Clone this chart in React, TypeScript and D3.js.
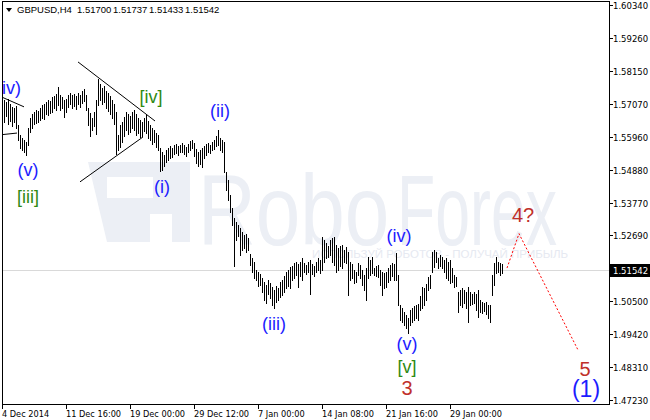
import React from "react";
import * as d3 from "d3";

const symbolTitle = "GBPUSD,H4";
const titleQuotes = ["1.51700", "1.51737", "1.51433", "1.51542"];

const highs = [
  1.5726, 1.5719, 1.5712, 1.5722, 1.5706, 1.5696, 1.5692, 1.5699, 1.5636, 1.5603,
  1.5593, 1.5586, 1.5580, 1.5626, 1.5659, 1.5673, 1.5679, 1.5686, 1.5683, 1.5692,
  1.5702, 1.5706, 1.5712, 1.5719, 1.5716, 1.5729, 1.5732, 1.5739, 1.5762, 1.5736,
  1.5729, 1.5719, 1.5722, 1.5736, 1.5742, 1.5736, 1.5739, 1.5732, 1.5742, 1.5736,
  1.5749, 1.5756, 1.5736, 1.5692, 1.5676, 1.5659, 1.5679, 1.5719, 1.5789, 1.5772,
  1.5759, 1.5766, 1.5749, 1.5742, 1.5732, 1.5719, 1.5706, 1.5679, 1.5603, 1.5636,
  1.5646, 1.5663, 1.5679, 1.5673, 1.5666, 1.5679, 1.5686, 1.5673, 1.5659, 1.5653,
  1.5646, 1.5659, 1.5669, 1.5649, 1.5636, 1.5626, 1.5619, 1.5609, 1.5603, 1.5560,
  1.5546, 1.5536, 1.5553, 1.5560, 1.5566, 1.5560, 1.5570, 1.5573, 1.5566, 1.5570,
  1.5576, 1.5570, 1.5563, 1.5573, 1.5583, 1.5586, 1.5576, 1.5556, 1.5546, 1.5553,
  1.5560, 1.5566, 1.5573, 1.5576, 1.5570, 1.5580, 1.5586, 1.5600, 1.5619, 1.5593,
  1.5586, 1.5580, 1.5480, 1.5453, 1.5404, 1.5360, 1.5327, 1.5314, 1.5304, 1.5294,
  1.5281, 1.5271, 1.5274, 1.5261, 1.5208, 1.5194, 1.5181, 1.5155, 1.5148, 1.5141,
  1.5128, 1.5115, 1.5105, 1.5121, 1.5111, 1.5098, 1.5088, 1.5102, 1.5095, 1.5115,
  1.5121, 1.5135, 1.5148, 1.5155, 1.5165, 1.5168, 1.5178, 1.5181, 1.5175, 1.5181,
  1.5194, 1.5178, 1.5171, 1.5181, 1.5188, 1.5175, 1.5168, 1.5181, 1.5194, 1.5188,
  1.5264, 1.5254, 1.5244, 1.5234, 1.5254, 1.5261, 1.5264, 1.5238, 1.5228, 1.5234,
  1.5238, 1.5221, 1.5231, 1.5214, 1.5181, 1.5175, 1.5155, 1.5148, 1.5178, 1.5171,
  1.5155, 1.5138, 1.5161, 1.5198, 1.5188, 1.5198, 1.5161, 1.5168, 1.5171, 1.5155,
  1.5148, 1.5145, 1.5148, 1.5161, 1.5171, 1.5178, 1.5175, 1.5211, 1.5138, 1.5038,
  1.5028, 1.5015, 1.5005, 1.4995, 1.5022, 1.5028, 1.5035, 1.5038, 1.5042, 1.5068,
  1.5098, 1.5095, 1.5108, 1.5131, 1.5138, 1.5214, 1.5221, 1.5214, 1.5194, 1.5204,
  1.5198, 1.5188, 1.5194, 1.5181, 1.5188, 1.5161, 1.5138, 1.5131, 1.5082, 1.5088,
  1.5095, 1.5088, 1.5082, 1.5098, 1.5082, 1.5075, 1.5082, 1.5075, 1.5088, 1.5055,
  1.5048, 1.5045, 1.5048, 1.5038, 1.5038, 1.5138, 1.5178, 1.5198, 1.5181, 1.5178,
  1.51737,
];

const lows = [
  1.5659, 1.5646, 1.5666, 1.5639, 1.5649, 1.5633, 1.5646, 1.5626, 1.5586, 1.5560,
  1.5553, 1.5546, 1.5536, 1.5570, 1.5613, 1.5626, 1.5639, 1.5643, 1.5646, 1.5653,
  1.5659, 1.5656, 1.5673, 1.5669, 1.5676, 1.5679, 1.5692, 1.5686, 1.5702, 1.5686,
  1.5692, 1.5663, 1.5679, 1.5696, 1.5706, 1.5692, 1.5699, 1.5689, 1.5706, 1.5696,
  1.5709, 1.5716, 1.5686, 1.5636, 1.5600, 1.5619, 1.5633, 1.5606, 1.5702, 1.5719,
  1.5706, 1.5712, 1.5692, 1.5683, 1.5673, 1.5659, 1.5639, 1.5540, 1.5553, 1.5563,
  1.5580, 1.5600, 1.5619, 1.5606, 1.5613, 1.5626, 1.5619, 1.5603, 1.5609, 1.5596,
  1.5600, 1.5616, 1.5609, 1.5593, 1.5586, 1.5573, 1.5580, 1.5563, 1.5553, 1.5483,
  1.5487, 1.5500, 1.5513, 1.5520, 1.5526, 1.5530, 1.5540, 1.5543, 1.5536, 1.5546,
  1.5546, 1.5540, 1.5533, 1.5546, 1.5553, 1.5560, 1.5533, 1.5510, 1.5500, 1.5507,
  1.5497, 1.5526, 1.5536, 1.5546, 1.5543, 1.5553, 1.5556, 1.5566, 1.5570, 1.5553,
  1.5546, 1.5480, 1.5420, 1.5387, 1.5347, 1.5304, 1.5168, 1.5254, 1.5268, 1.5204,
  1.5221, 1.5228, 1.5214, 1.5221, 1.5171, 1.5148, 1.5128, 1.5121, 1.5102, 1.5105,
  1.5082, 1.5055, 1.5045, 1.5075, 1.5062, 1.5038, 1.5028, 1.5048, 1.5055, 1.5065,
  1.5072, 1.5082, 1.5095, 1.5102, 1.5095, 1.5121, 1.5128, 1.5138, 1.5098, 1.5135,
  1.5121, 1.5148, 1.5141, 1.5148, 1.5075, 1.5141, 1.5135, 1.5148, 1.5155, 1.5145,
  1.5155, 1.5181, 1.5194, 1.5198, 1.5204, 1.5181, 1.5171, 1.5148, 1.5155, 1.5168,
  1.5161, 1.5181, 1.5178, 1.5072, 1.5121, 1.5128, 1.5111, 1.5115, 1.5138, 1.5128,
  1.5105, 1.5088, 1.5055, 1.5128, 1.5138, 1.5145, 1.5138, 1.5135, 1.5131, 1.5105,
  1.5072, 1.5095, 1.5098, 1.5115, 1.5121, 1.5135, 1.5121, 1.5121, 1.5038, 1.4989,
  1.4982, 1.4972, 1.4962, 1.4945, 1.4972, 1.4982, 1.4989, 1.4995, 1.4989, 1.5022,
  1.5028, 1.5038, 1.5055, 1.5088, 1.5095, 1.5148, 1.5165, 1.5181, 1.5161, 1.5168,
  1.5161, 1.5148, 1.5128, 1.5121, 1.5111, 1.5115, 1.5098, 1.5102, 1.5015, 1.5038,
  1.5032, 1.5045, 1.5028, 1.4982, 1.5038, 1.5042, 1.5045, 1.5022, 1.4999, 1.5015,
  1.5012, 1.5019, 1.5009, 1.4995, 1.4982, 1.5072, 1.5105, 1.5145, 1.5148, 1.5138,
  1.51433,
];

const currentPrice = 1.51542;

const priceTicks = [1.6034, 1.5926, 1.5815, 1.5707, 1.5596, 1.5488, 1.5377, 1.5269, 1.505, 1.4942, 1.4831, 1.4723];

const timeTickBars = [0, 32, 64, 96, 128, 160, 192, 224];
const timeTickLabels = ["4 Dec 2014", "11 Dec 16:00", "19 Dec 00:00", "29 Dec 12:00", "7 Jan 00:00", "14 Jan 08:00", "21 Jan 16:00", "29 Jan 00:00"];

// wave labels
const waveText = ["(iv)", "(v)", "[iii]", "[iv]", "(i)", "(ii)", "(iii)", "(iv)", "(v)", "[v]", "3", "4?", "5", "(1)"];
const waveBar = [3.2, 13, 13, 74.5, 80, 109, 136, 198.5, 202.5, 202.5, 202.5, 260.5, 291.5, 292];
const wavePrice = [1.5759, 1.5487, 1.5397, 1.5729, 1.5430, 1.5683, 1.4975, 1.5268, 1.4909, 1.4833, 1.4763, 1.5337, 1.4826, 1.4759];
const waveKind = ["minor", "minor", "inter", "inter", "minor", "minor", "minor", "minor", "minor", "inter", "primary", "primary", "primary", "big"];

// trendlines (triangle) : [bar1, price1, bar2, price2]
const trendLines = [
  [38, 1.5845, 76.5, 1.5649],
  [39, 1.5447, 70.5, 1.5596],
  [-1, 1.5731, 11, 1.5696],
  [-1, 1.5603, 7.5, 1.5609],
];

// projected path
const projBars = [252.5, 258.5, 288];
const projPrices = [1.5161, 1.5275, 1.4889];

const W = 650;
const H = 420;
const left = 2;
const right = 609;
const top = 1;
const bottom = 404;

const kindColor: Record<string, string> = {
  minor: "#1c1cff",
  inter: "#2e8a12",
  primary: "#c0302a",
  big: "#1c1cff",
};
const kindSize: Record<string, number> = { minor: 18, inter: 18, primary: 20, big: 23 };

export default function App() {
  const x = d3.scaleLinear().domain([0, 1]).range([left, left + 2]);
  const y = d3.scaleLinear().domain([1.4723, 1.6034]).range([400, 5]);
  const axisFont = "DejaVu Sans, Verdana, sans-serif";
  const labelFont = "Liberation Sans, Arial, sans-serif";
  const projLine = d3
    .line<number>()
    .x((_, i) => x(projBars[i]))
    .y((d) => y(d));

  return (
    <svg
      width={W}
      height={H}
      style={{ position: "absolute", left: 0, top: 0, background: "#fff" }}
    >
      <defs>
        <clipPath id="plot">
          <rect x={left + 1} y={top + 1} width={right - left - 1} height={bottom - top - 1} />
        </clipPath>
      </defs>
      <rect x={0} y={0} width={W} height={H} fill="#fff" />

      {/* watermark */}
      <g fill="#eceff5">
        <path d="M88,162 H190 V242 H172 V214 H150 V242 H107 Z M107,177 V198 H153 V177 Z" fillRule="evenodd" />
        <text transform="translate(198,245) scale(0.8,1)" fontFamily={labelFont} fontSize={100}>
          Robo
        </text>
        <text transform="translate(397,245) scale(0.626,1)" fontFamily={labelFont} fontSize={100}>
          Forex
        </text>
        <text x={312} y={258} fontFamily={labelFont} fontSize={11.5} fill="#e6e9f1">
          ИСПОЛЬЗУЙ РОБОТОВ - ПОЛУЧАЙ ПРИБЫЛЬ
        </text>
      </g>

      {/* current price line */}
      <line
        x1={left}
        x2={right}
        y1={Math.round(y(currentPrice)) + 0.5}
        y2={Math.round(y(currentPrice)) + 0.5}
        stroke="#d9d9d9"
      />

      {/* bars */}
      <g stroke="#000" strokeWidth={1} shapeRendering="crispEdges" clipPath="url(#plot)">
        {highs.map((h, i) => (
          <line key={i} x1={x(i) + 0.5} x2={x(i) + 0.5} y1={Math.round(y(h))} y2={Math.round(y(lows[i])) + 1} />
        ))}
      </g>

      {/* trend lines */}
      <g stroke="#000" strokeWidth={1} clipPath="url(#plot)">
        {trendLines.map((t, i) => (
          <line key={i} x1={x(t[0])} y1={y(t[1])} x2={x(t[2])} y2={y(t[3])} />
        ))}
      </g>

      {/* projection */}
      <path d={projLine(projPrices) || ""} fill="none" stroke="#ff0000" strokeWidth={1} strokeDasharray="2,2" />

      {/* wave labels */}
      {waveText.map((t, i) => (
        <text
          key={i}
          x={x(waveBar[i])}
          y={y(wavePrice[i])}
          textAnchor="middle"
          dominantBaseline="central"
          fontFamily={labelFont}
          fontSize={kindSize[waveKind[i]]}
          fill={kindColor[waveKind[i]]}
          clipPath={i === 0 ? "url(#plot)" : undefined}
        >
          {t}
        </text>
      ))}

      {/* frame */}
      <g stroke="#000" strokeWidth={1} shapeRendering="crispEdges" fill="none">
        <line x1={left} x2={right} y1={top + 0.5} y2={top + 0.5} />
        <line x1={left} x2={right} y1={bottom + 0.5} y2={bottom + 0.5} />
        <line x1={left + 0.5} x2={left + 0.5} y1={top} y2={bottom + 1} />
        <line x1={right + 0.5} x2={right + 0.5} y1={top} y2={bottom + 1} />
      </g>

      {/* price axis */}
      <g fontFamily={axisFont} fontSize={8.5} fill="#000">
        {priceTicks.map((p, i) => {
          const yy = Math.round(y(p));
          return (
            <g key={i}>
              <line x1={right} x2={right + 4} y1={yy + 0.5} y2={yy + 0.5} stroke="#000" shapeRendering="crispEdges" />
              <text x={613} y={yy + 3.5}>
                {d3.format(".5f")(p)}
              </text>
            </g>
          );
        })}
        <rect x={610} y={Math.round(y(currentPrice)) - 6} width={40} height={13} fill="#000" />
        <text x={613} y={Math.round(y(currentPrice)) + 3.5} fill="#fff">
          {d3.format(".5f")(currentPrice)}
        </text>
      </g>

      {/* time axis */}
      <g fontFamily={axisFont} fontSize={8.2} fill="#000">
        {timeTickBars.map((b, i) => (
          <g key={i}>
            <line x1={x(b) + 0.5} x2={x(b) + 0.5} y1={bottom} y2={bottom + 5} stroke="#000" shapeRendering="crispEdges" />
            <text x={x(b)} y={417}>
              {timeTickLabels[i]}
            </text>
          </g>
        ))}
      </g>

      {/* header */}
      <g fontFamily={labelFont} fontSize={9.5} fill="#000">
        <path d="M6,8 L12,8 L9,12 Z" fill="#000" />
        <text x={17} y={13}>{symbolTitle}</text>
        {titleQuotes.map((q, i) => (
          <text key={i} x={77 + i * 36} y={13}>
            {q}
          </text>
        ))}
      </g>
    </svg>
  );
}
